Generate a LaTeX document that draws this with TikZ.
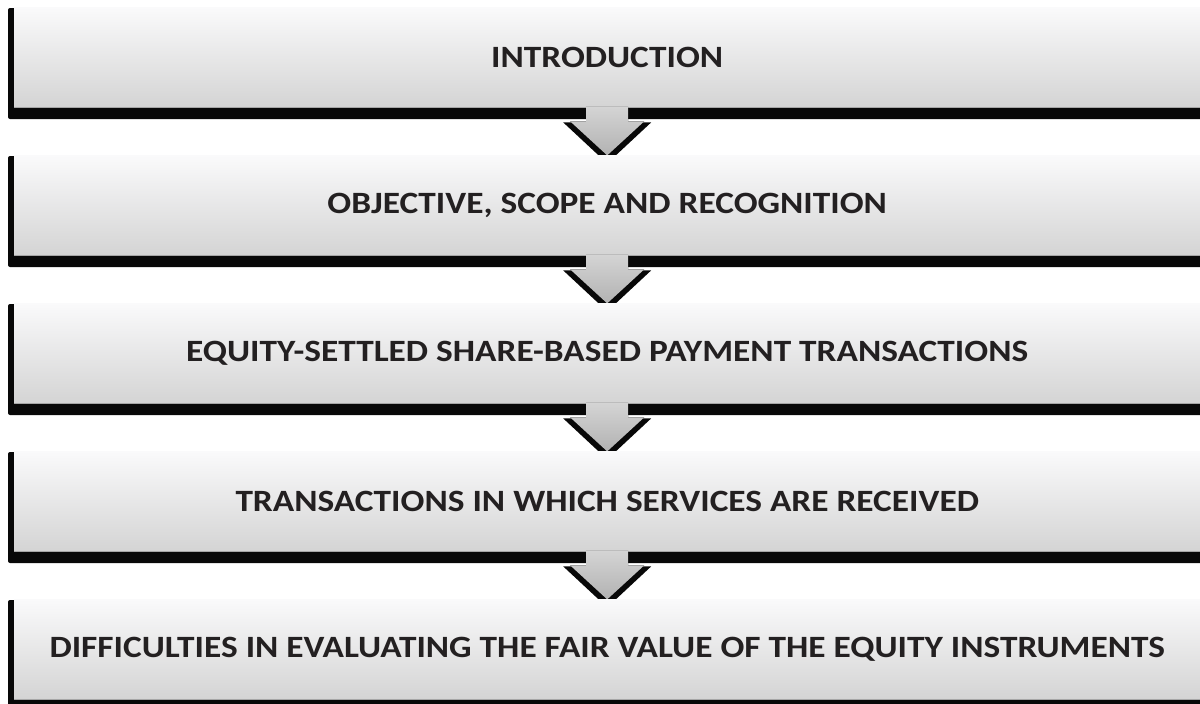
\documentclass[tikz,border=0pt]{standalone}
\usepackage{fontspec}
\newfontfamily\boxfont{Carlito}[FakeStretch=1.14]
\usetikzlibrary{calc}
\definecolor{boxtop}{RGB}{250,250,251}
\definecolor{boxmid}{RGB}{243,243,245}
\definecolor{boxbot}{RGB}{212,212,212}
\definecolor{arrtop}{RGB}{212,212,212}
\definecolor{arrbot}{RGB}{178,178,178}
\definecolor{txt}{RGB}{35,32,33}
\definecolor{shad}{RGB}{8,8,8}
\tikzset{
  face/.style={top color=boxtop, middle color=boxmid, bottom color=boxbot, draw=none,
    minimum width=1186pt, minimum height=100pt, inner sep=0pt, anchor=north west,
    text=txt, font=\boxfont\fontsize{31}{36}\selectfont\bfseries},
  shadowbox/.style={fill=shad, rounded corners=2pt},
  edgeline/.style={draw=gray!70, line width=0.8pt},
  arrowfill/.style={top color=arrtop, bottom color=arrbot, draw=none},
  arrowshadow/.style={fill=shad}
}
\begin{document}
\begin{tikzpicture}[x=1pt,y=-1pt]
\useasboundingbox (0,0) rectangle (1200,704);
\foreach \i/\t [evaluate=\i as \yy using 7+148*\i] in {0/{INTRODUCTION},1/{OBJECTIVE, SCOPE AND RECOGNITION},2/{EQUITY-SETTLED SHARE-BASED PAYMENT TRANSACTIONS},3/{TRANSACTIONS IN WHICH SERVICES ARE RECEIVED},4/{DIFFICULTIES IN EVALUATING THE FAIR VALUE OF THE EQUITY INSTRUMENTS}} {
  \coordinate (tl\i) at (14,\yy);
  \fill[shadowbox] ($(tl\i)+(-6,1)$) rectangle ($(tl\i)+(1200,112)$);
  \node[face] (b\i) at (tl\i) {\t};
  \draw[edgeline] (b\i.south west) -- (b\i.south east);
  \ifnum\i<4
    \fill[arrowshadow] ($(b\i.south)+(-44,15)$) -- ($(b\i.south)+(44,15)$) -- ($(b\i.south)+(0,56)$) -- cycle;
    \fill[arrowfill] ($(b\i.south)+(-21,-0.6)$) -- ($(b\i.south)+(21,-0.6)$) -- ($(b\i.south)+(21,14)$)
      -- ($(b\i.south)+(37,14)$) -- ($(b\i.south)+(0,48)$) -- ($(b\i.south)+(-37,14)$)
      -- ($(b\i.south)+(-21,14)$) -- cycle;
  \fi
}
\end{tikzpicture}
\end{document}
